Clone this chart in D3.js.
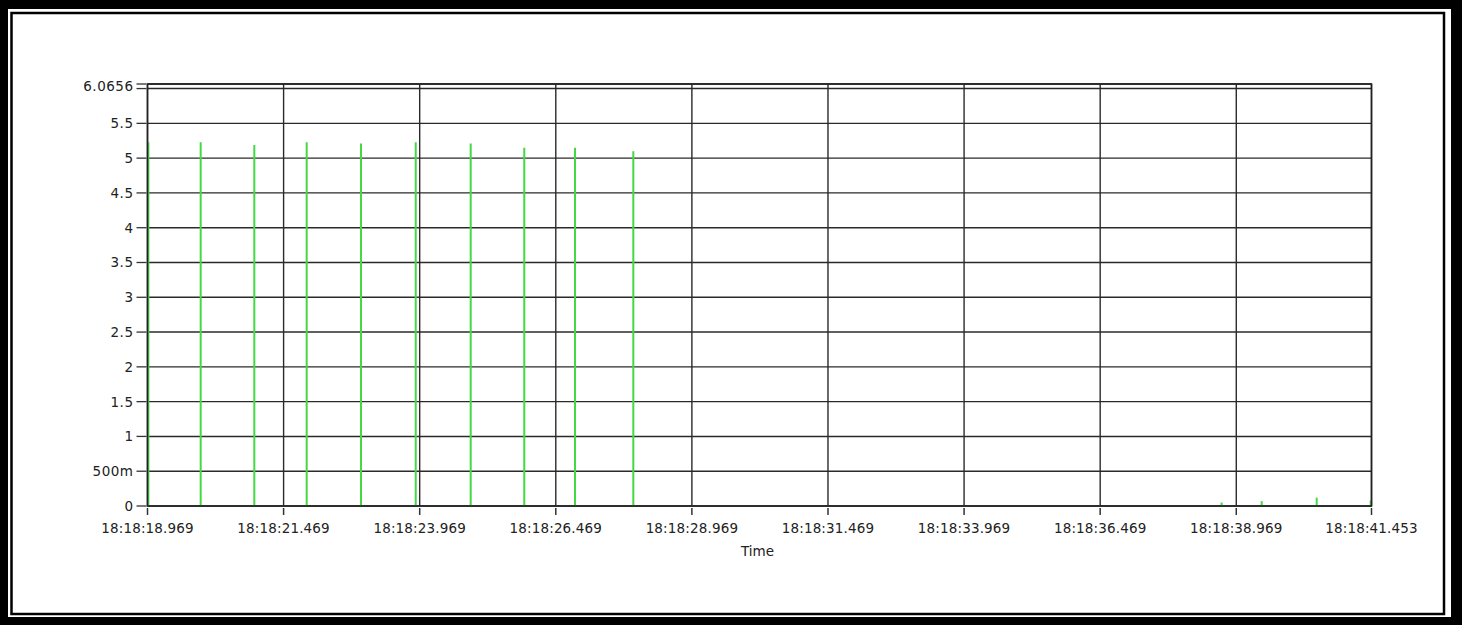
<!DOCTYPE html>
<html>
<head>
<meta charset="utf-8">
<script src="https://cdn.jsdelivr.net/npm/d3@7"></script>
<style>
  html, body { margin: 0; padding: 0; background: #000; }
  svg { display: block; }
  text { font-family: "DejaVu Sans", sans-serif; fill: #222; }
</style>
</head>
<body>
<svg id="chart" width="1462" height="625"></svg>
<script>
// ---- data (seconds within 18:18:xx) ----
const spikeTimes  = [18.985, 19.946, 20.931, 21.893, 22.891, 23.896, 24.906, 25.890, 26.822, 27.893, 38.700, 39.436, 40.446, 41.438];
const spikeValues = [5.23, 5.23, 5.19, 5.23, 5.21, 5.23, 5.21, 5.15, 5.15, 5.10, 0.05, 0.07, 0.12, 0.08];

const xTickValues = [18.969, 21.469, 23.969, 26.469, 28.969, 31.469, 33.969, 36.469, 38.969, 41.453];
const xTickLabels = ["18:18:18.969", "18:18:21.469", "18:18:23.969", "18:18:26.469", "18:18:28.969",
                     "18:18:31.469", "18:18:33.969", "18:18:36.469", "18:18:38.969", "18:18:41.453"];
const yTickValues = [0, 0.5, 1, 1.5, 2, 2.5, 3, 3.5, 4, 4.5, 5, 5.5, 6, 6.0656];
const yTickLabels = ["0", "500m", "1", "1.5", "2", "2.5", "3", "3.5", "4", "4.5", "5", "5.5", "", "6.0656"];
const xTitle = "Time";
const yMax = 6.0656;

// ---- layout ----
const svg = d3.select("#chart");
const W = 1462, H = 625;
const plot = { left: 147.5, right: 1371.5, top: 84, bottom: 506 };

// window frame
svg.append("rect").attr("x", 0).attr("y", 0).attr("width", W).attr("height", H).attr("fill", "#000");
svg.append("rect").attr("x", 8).attr("y", 9).attr("width", 1443).attr("height", 608).attr("fill", "#fff");
svg.append("rect").attr("x", 11.5).attr("y", 13).attr("width", 1432.5).attr("height", 601)
  .attr("fill", "#fff").attr("stroke", "#000").attr("stroke-width", 2.5);

const x = d3.scaleLinear().domain([xTickValues[0], xTickValues[xTickValues.length - 1]]).range([plot.left, plot.right]);
const y = d3.scaleLinear().domain([0, yMax]).range([plot.bottom, plot.top]);

const g = svg.append("g");

// horizontal grid
g.append("g").selectAll("line").data(yTickValues).join("line")
  .attr("x1", plot.left).attr("x2", plot.right)
  .attr("y1", d => y(d)).attr("y2", d => y(d))
  .attr("stroke", "#2a2a2a").attr("stroke-width", 1.4);

// vertical grid
g.append("g").selectAll("line").data(xTickValues).join("line")
  .attr("x1", d => x(d)).attr("x2", d => x(d))
  .attr("y1", plot.top).attr("y2", plot.bottom)
  .attr("stroke", "#2a2a2a").attr("stroke-width", 1.4);

// spikes
g.append("g").selectAll("line").data(spikeTimes).join("line")
  .attr("x1", d => x(d)).attr("x2", d => x(d))
  .attr("y1", y(0)).attr("y2", (d, i) => y(spikeValues[i]))
  .attr("stroke", "#45d845").attr("stroke-width", 2);

// plot frame
g.append("rect").attr("x", plot.left).attr("y", plot.top)
  .attr("width", plot.right - plot.left).attr("height", plot.bottom - plot.top)
  .attr("fill", "none").attr("stroke", "#222").attr("stroke-width", 1.6);

// y axis ticks and labels
const yAxis = g.append("g");
yAxis.selectAll("line").data(yTickValues).join("line")
  .attr("x1", plot.left - 11).attr("x2", plot.left - 1)
  .attr("y1", d => y(d)).attr("y2", d => y(d))
  .attr("stroke", "#333").attr("stroke-width", 1.3);
yAxis.selectAll("text").data(yTickValues).join("text")
  .attr("x", plot.left - 14)
  .attr("y", (d, i) => i === yTickValues.length - 1 ? y(d) + 2 : y(d))
  .attr("dy", "0.36em")
  .attr("text-anchor", "end")
  .attr("font-size", 13.5)
  .attr("letter-spacing", 0.5)
  .text((d, i) => yTickLabels[i]);

// x axis ticks and labels
const xAxis = g.append("g");
xAxis.selectAll("line").data(xTickValues).join("line")
  .attr("x1", d => x(d)).attr("x2", d => x(d))
  .attr("y1", plot.bottom + 2).attr("y2", plot.bottom + 9)
  .attr("stroke", "#333").attr("stroke-width", 1.5);
xAxis.selectAll("text").data(xTickValues).join("text")
  .attr("x", d => x(d))
  .attr("y", 533)
  .attr("text-anchor", "middle")
  .attr("font-size", 13.5)
  .attr("letter-spacing", 0.15)
  .text((d, i) => xTickLabels[i]);

svg.append("text")
  .attr("x", (plot.left + plot.right) / 2 - 2)
  .attr("y", 556)
  .attr("text-anchor", "middle")
  .attr("font-size", 13.5)
  .text(xTitle);
</script>
</body>
</html>
